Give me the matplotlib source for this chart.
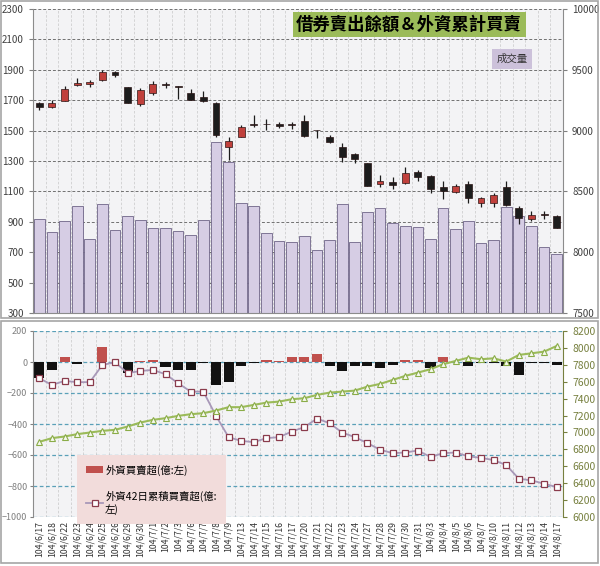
import numpy as np
import matplotlib
matplotlib.use('Agg')
import matplotlib.pyplot as plt
from matplotlib.patches import Rectangle, Patch
from matplotlib.lines import Line2D

plt.rcParams['font.family'] = ['Noto Sans CJK TC', 'DejaVu Sans']

dates = ['104/6/17', '104/6/18', '104/6/22', '104/6/23', '104/6/24', '104/6/25', '104/6/26',
         '104/6/29', '104/6/30', '104/7/1', '104/7/2', '104/7/3', '104/7/6', '104/7/7',
         '104/7/8', '104/7/9', '104/7/13', '104/7/14', '104/7/15', '104/7/16', '104/7/17',
         '104/7/20', '104/7/21', '104/7/22', '104/7/23', '104/7/24', '104/7/27', '104/7/28',
         '104/7/29', '104/7/30', '104/7/31', '104/8/3', '104/8/4', '104/8/5', '104/8/6',
         '104/8/7', '104/8/10', '104/8/11', '104/8/12', '104/8/13', '104/8/14', '104/8/17']

# 成交量 (left axis, top chart)
volume = [920, 830, 905, 1005, 790, 1017, 845, 940, 912, 860, 860, 840, 815, 910,
          1427, 1295, 1023, 1006, 826, 775, 765, 808, 714, 778, 1015, 765, 962, 989,
          890, 872, 865, 787, 993, 854, 905, 758, 780, 999, 938, 870, 736, 686]

# index candles (right axis, top chart)
k_open = [9230, 9192, 9246, 9373, 9381, 9416, 9482, 9356, 9219, 9307, 9382, 9365, 9307, 9277,
          9225, 8863, 8945, 9050, 9055, 9055, 9055, 9082, 9002, 8950, 8868, 8805, 8735, 8562,
          8580, 8567, 8663, 8627, 8534, 8498, 8562, 8403, 8403, 8539, 8362, 8271, 8308, 8298]
k_close = [9192, 9225, 9342, 9394, 9402, 9480, 9455, 9230, 9334, 9384, 9378, 9362, 9252, 9244,
           8964, 8917, 9033, 9046, 9052, 9040, 9045, 8956, 9005, 8909, 8786, 8767, 8548, 8586,
           8553, 8654, 8622, 8518, 8506, 8545, 8444, 8444, 8471, 8389, 8279, 8307, 8306, 8202]
k_high = [9232, 9252, 9367, 9435, 9416, 9499, 9490, 9356, 9348, 9408, 9402, 9366, 9342, 9328,
          9238, 8945, 9046, 9129, 9093, 9074, 9074, 9129, 9005, 8964, 8896, 8814, 8735, 8635,
          8616, 8699, 8676, 8635, 8589, 8562, 8589, 8457, 8485, 8589, 8381, 8342, 8342, 8307]
k_low = [9170, 9184, 9246, 9367, 9361, 9408, 9443, 9225, 9203, 9293, 9348, 9260, 9250, 9238,
         8945, 8759, 8945, 9033, 9005, 9019, 9016, 8950, 8940, 8896, 8745, 8737, 8548, 8534,
         8518, 8562, 8589, 8485, 8438, 8485, 8408, 8370, 8375, 8381, 8233, 8260, 8271, 8197]

# 外資買賣超 (億, left axis, bottom chart)
foreign_net = [-100, -50, 30, -12, -3, 100, 3, -71, 9, 15, -32, -54, -54, -6, -150, -131,
               -28, -6, 13, 5, 32, 30, 52, -28, -60, -24, -28, -39, -19, 11, 11, -39, 32,
               -3, -24, -9, -9, -24, -86, -9, -9, -21]
# 外資42日累積買賣超 (億, left axis)
foreign_42d = [-105, -148, -122, -130, -130, -19, -2, -72, -58, -51, -79, -137, -191, -191,
               -347, -485, -509, -517, -491, -485, -449, -420, -365, -395, -455, -485, -523,
               -566, -588, -584, -571, -613, -588, -584, -609, -618, -633, -665, -753, -764,
               -785, -807]
# 借券賣出餘額 (right axis, bottom chart)
short_balance = [6889, 6933, 6952, 6980, 6999, 7019, 7031, 7070, 7117, 7149, 7169, 7196, 7216,
                 7228, 7259, 7299, 7299, 7326, 7353, 7365, 7393, 7405, 7444, 7471, 7483, 7495,
                 7542, 7574, 7621, 7669, 7708, 7748, 7807, 7846, 7885, 7866, 7877, 7838, 7917,
                 7936, 7956, 8023]

W, H = 600, 566


def box(l, t, r, b):
    return [l / W, 1 - b / H, (r - l) / W, (b - t) / H]


fig = plt.figure(figsize=(6, 5.66), dpi=100)
x = np.arange(len(dates))

# panel frames
for l, t, r, b in [(1, 1, 598, 318), (1, 321, 598, 563)]:
    fig.add_artist(Rectangle((l / W, 1 - b / H), (r - l) / W, (b - t) / H,
                             transform=fig.transFigure, fill=False,
                             edgecolor='#a6a6a6', lw=1.2))

# ---------------- top chart ----------------
ax = fig.add_axes(box(33, 9, 563, 313))
ax.set_facecolor('#f3f3f5')
ax.bar(x, volume, width=0.85, color='#d6cde4', edgecolor='#6e6487', linewidth=0.6, zorder=2)
ax.set_xlim(-0.5, len(dates) - 0.5)
ax.set_ylim(300, 2300)
ax.set_yticks(range(300, 2301, 200))
ax.set_xticks([])
ax.set_xticks(np.arange(0.5, len(dates) - 1, 1), minor=True)
ax.set_axisbelow(True)
ax.grid(axis='y', which='major', color='#707070', ls=(0, (3, 2)), lw=0.7)
ax.grid(axis='x', which='minor', color='#cfcfcf', ls=(0, (3, 2)), lw=0.6)
ax.tick_params(axis='x', which='both', length=0)
ax.tick_params(axis='y', labelsize=7, labelcolor='#404040', length=3, color='#808080')
for s in ['top', 'right']:
    ax.spines[s].set_visible(False)
for s in ['left', 'bottom']:
    ax.spines[s].set_color('#8c8c8c')

ax2 = ax.twinx()
ax2.set_ylim(7500, 10000)
ax2.set_yticks(range(7500, 10001, 500))
ax2.tick_params(axis='y', labelsize=7, labelcolor='#404040', length=3, color='#808080')
for s in ['top', 'left', 'bottom']:
    ax2.spines[s].set_visible(False)
ax2.spines['right'].set_color('#8c8c8c')

o = np.array(k_open)
c = np.array(k_close)
up = c > o
body_bottom = np.minimum(o, c)
body_h = np.maximum(np.abs(c - o), 5)
cols = np.where(up, '#c0403c', '#1c1c1c')
ax2.vlines(x, k_low, k_high, color='#1c1c1c', lw=0.9, zorder=3)
ax2.bar(x, body_h, bottom=body_bottom, width=0.55, color=cols,
        edgecolor='#2a1515', linewidth=0.5, zorder=4)

fig.text(0.682, 0.956, '借券賣出餘額＆外資累計買賣', fontsize=12.5, weight='bold',
         ha='center', va='center',
         bbox=dict(boxstyle='square,pad=0.2', facecolor='#9bbb59', edgecolor='none'))
fig.text(0.853, 0.896, '成交量', fontsize=7.5, color='#333333', ha='center', va='center',
         bbox=dict(boxstyle='square,pad=0.45', facecolor='#ccc1da', edgecolor='none'))

# ---------------- bottom chart ----------------
ax3 = fig.add_axes(box(33, 331, 563, 517))
ax3.set_facecolor('#f3f3f5')
bar_cols = ['#c0504d' if v > 0 else '#111111' for v in foreign_net]
ax3.bar(x, foreign_net, width=0.8, color=bar_cols, zorder=2)
ax3.plot(x, foreign_42d, color='#a898b8', lw=1.3, marker='s', ms=4.5, mfc='white',
         mec='#8a3b4c', mew=0.9, zorder=3)
ax3.set_xlim(-0.5, len(dates) - 0.5)
ax3.set_ylim(-1000, 200)
ax3.set_yticks(range(-1000, 201, 200))
ax3.set_xticks(x)
ax3.set_xticklabels(dates, rotation=90, fontsize=6.3, color='#333333')
ax3.set_xticks(np.arange(0.5, len(dates) - 1, 1), minor=True)
ax3.set_axisbelow(True)
ax3.grid(axis='y', which='major', color='#5aa0b8', ls=(0, (3, 2)), lw=0.9)
ax3.grid(axis='x', which='minor', color='#cfcfcf', ls=(0, (3, 2)), lw=0.6)
ax3.tick_params(axis='x', which='both', length=0, pad=3)
ax3.tick_params(axis='y', labelsize=6.5, labelcolor='#808080', length=2, pad=2,
                color='#808080')
for s in ['top', 'right', 'bottom']:
    ax3.spines[s].set_visible(False)
ax3.spines['left'].set_color('#8c8c8c')

ax4 = ax3.twinx()
ax4.plot(x, short_balance, color='#9bbb59', lw=1.5, marker='^', ms=5, mfc='#f6f9ee',
         mec='#8aac48', mew=0.8, zorder=3)
ax4.set_ylim(6000, 8200)
ax4.set_yticks(range(6000, 8201, 200))
ax4.tick_params(axis='y', labelsize=7.5, labelcolor='#77803f', length=3, color='#77803f')
for s in ['top', 'left', 'bottom']:
    ax4.spines[s].set_visible(False)
ax4.spines['right'].set_color('#77803f')

handles = [Patch(facecolor='#c0504d'),
           Line2D([], [], color='#a898b8', lw=1.3, marker='s', ms=4.5, mfc='white',
                  mec='#8a3b4c', mew=0.9)]
labels = ['外資買賣超(億:左)', '外資42日累積買賣超(億:\n左)']
ax4.legend(handles, labels, loc='upper left', bbox_to_anchor=(0.083, 0.333),
           fontsize=7.5, frameon=True, facecolor='#f2dcdb', edgecolor='none',
           framealpha=1, fancybox=False, borderpad=0.9, labelspacing=1.5,
           handlelength=1.6, handletextpad=0.2, borderaxespad=0)

fig.savefig('out.png', dpi=100)
